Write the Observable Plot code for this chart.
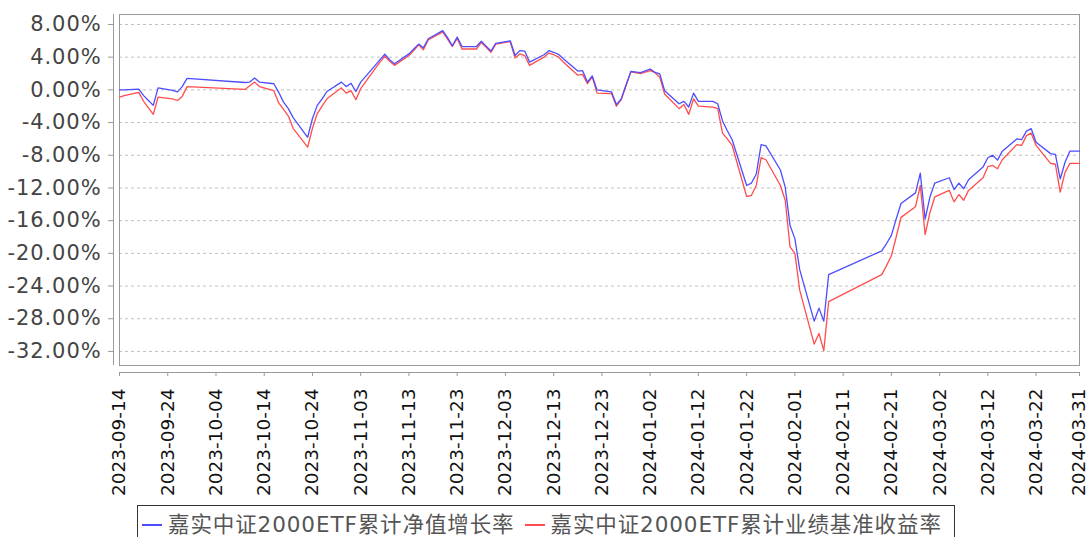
<!DOCTYPE html>
<html><head><meta charset="utf-8">
<script src="https://cdn.jsdelivr.net/npm/d3@7"></script>
<script src="https://cdn.jsdelivr.net/npm/@observablehq/plot@0.6"></script>
<style>
html,body{margin:0;padding:0;background:#fff;}
#wrap{position:relative;width:1088px;height:537px;overflow:hidden;font-family:"DejaVu Sans","Noto Sans CJK SC",sans-serif;}
#wrap svg{display:block;overflow:visible;}
#wrap svg g[aria-label="y-axis tick label"] text{letter-spacing:0.9px;}
.legend{position:absolute;left:137px;top:505px;width:818px;height:44px;box-sizing:border-box;border:1px solid #333;background:#fff;
  display:flex;align-items:flex-start;padding-top:7px;padding-left:4px;font-size:21.5px;letter-spacing:0.9px;color:#555;white-space:nowrap;line-height:24px;}
.legend .item{display:flex;align-items:center;}
.legend .sym{display:inline-block;width:20px;height:1.4px;margin-right:6px;}
.legend .item + .item{margin-left:10px;}
</style></head><body>
<div id="wrap"></div>
<script>
const dates = ["2023-09-14","2023-09-15","2023-09-18","2023-09-19","2023-09-20","2023-09-21","2023-09-22","2023-09-25","2023-09-26","2023-09-27","2023-09-28",
"2023-10-10","2023-10-11","2023-10-12","2023-10-13","2023-10-16","2023-10-17","2023-10-18","2023-10-19","2023-10-20","2023-10-23","2023-10-24","2023-10-25","2023-10-26","2023-10-27","2023-10-30","2023-10-31",
"2023-11-01","2023-11-02","2023-11-03","2023-11-06","2023-11-07","2023-11-08","2023-11-09","2023-11-10","2023-11-13","2023-11-14","2023-11-15","2023-11-16","2023-11-17","2023-11-20","2023-11-21","2023-11-22","2023-11-23","2023-11-24","2023-11-27","2023-11-28","2023-11-29","2023-11-30",
"2023-12-01","2023-12-04","2023-12-05","2023-12-06","2023-12-07","2023-12-08","2023-12-11","2023-12-12","2023-12-13","2023-12-14","2023-12-15","2023-12-18","2023-12-19","2023-12-20","2023-12-21","2023-12-22","2023-12-25","2023-12-26","2023-12-27","2023-12-28","2023-12-29","2023-12-31",
"2024-01-02","2024-01-03","2024-01-04","2024-01-05","2024-01-08","2024-01-09","2024-01-10","2024-01-11","2024-01-12","2024-01-15","2024-01-16","2024-01-17","2024-01-18","2024-01-19","2024-01-22","2024-01-23","2024-01-24","2024-01-25","2024-01-26","2024-01-29","2024-01-30","2024-01-31",
"2024-02-01","2024-02-02","2024-02-05","2024-02-06","2024-02-07","2024-02-08","2024-02-19","2024-02-20","2024-02-21","2024-02-22","2024-02-23","2024-02-26","2024-02-27","2024-02-28","2024-02-29",
"2024-03-01","2024-03-04","2024-03-05","2024-03-06","2024-03-07","2024-03-08","2024-03-11","2024-03-12","2024-03-13","2024-03-14","2024-03-15","2024-03-18","2024-03-19","2024-03-20","2024-03-21","2024-03-22","2024-03-25","2024-03-26","2024-03-27","2024-03-28","2024-03-29","2024-03-31"];

const navGrowth = [0.0,0.0,0.1,-0.7,-1.3,-1.9,0.25,-0.05,-0.25,0.4,1.4,
0.9,0.95,1.45,0.95,0.75,-0.3,-1.5,-2.3,-3.4,-5.8,-3.5,-1.9,-1.1,-0.2,0.95,0.4,
0.8,-0.2,0.95,3.0,3.7,4.35,3.7,3.2,4.4,5.0,5.6,5.15,6.25,7.25,6.4,5.4,6.45,5.3,5.3,5.95,5.35,4.75,
5.7,6.0,4.2,4.8,4.75,3.4,4.3,4.8,4.6,4.35,3.8,2.3,2.35,0.95,1.7,0.0,-0.25,-1.8,-1.1,0.6,2.25,2.1,
2.55,2.15,1.95,-0.1,-1.7,-1.4,-2.1,-0.4,-1.4,-1.4,-1.7,-3.8,-5.0,-6.1,-11.7,-11.4,-10.3,-6.7,-6.85,-9.8,-11.9,-16.6,
-18.2,-22.0,-28.3,-26.7,-28.3,-22.6,-19.7,-18.8,-17.8,-15.8,-13.9,-12.6,-10.2,-15.8,-13.1,
-11.4,-10.75,-12.2,-11.4,-12.1,-11.0,-9.45,-8.3,-8.0,-8.6,-7.5,-6.0,-6.1,-5.05,-4.75,-6.4,-7.8,-7.9,-10.9,-8.85,-7.5,-7.5];

const benchmarkReturn = [-0.9,-0.7,-0.3,-1.4,-2.2,-3.0,-0.9,-1.1,-1.3,-0.8,0.4,
0.05,0.5,0.95,0.4,-0.1,-1.6,-2.4,-3.2,-4.7,-7.0,-4.7,-2.9,-2.0,-1.1,0.25,-0.4,
-0.1,-1.2,0.15,2.6,3.4,4.1,3.5,3.0,4.2,4.8,5.5,4.9,6.1,7.1,6.2,5.3,6.3,5.0,5.0,5.8,5.2,4.6,
5.6,5.9,3.9,4.4,4.2,3.0,4.0,4.5,4.3,4.0,3.4,1.8,1.9,0.75,1.6,-0.4,-0.45,-2.0,-1.2,0.5,2.2,2.0,
2.35,2.1,1.55,-0.5,-2.3,-1.8,-3.0,-1.1,-2.0,-2.1,-2.3,-5.3,-6.0,-6.8,-13.05,-12.9,-11.7,-8.3,-8.55,-11.7,-13.5,-19.2,
-20.0,-24.5,-31.1,-29.8,-31.9,-25.9,-22.6,-21.5,-20.3,-18.0,-15.6,-14.3,-11.7,-17.7,-15.0,
-13.1,-12.3,-13.7,-12.8,-13.5,-12.3,-10.75,-9.4,-9.25,-9.65,-8.55,-6.7,-6.8,-5.6,-5.3,-6.8,-9.0,-9.1,-12.5,-10.1,-9.0,-9.0];

const xTickLabels = ["2023-09-14","2023-09-24","2023-10-04","2023-10-14","2023-10-24","2023-11-03","2023-11-13","2023-11-23","2023-12-03","2023-12-13","2023-12-23",
"2024-01-02","2024-01-12","2024-01-22","2024-02-01","2024-02-11","2024-02-21","2024-03-02","2024-03-12","2024-03-22","2024-03-31"];
const yTickValues = [8,4,0,-4,-8,-12,-16,-20,-24,-28,-32];
const yDomain = [-33.72, 9.22];
const seriesNames = ["嘉实中证2000ETF累计净值增长率","嘉实中证2000ETF累计业绩基准收益率"];

const parse = d3.utcParse("%Y-%m-%d");
const fmt = d3.utcFormat("%Y-%m-%d");
const xTicks = xTickLabels.map(parse);
const xDomain = [xTicks[0], xTicks[xTicks.length - 1]];
const rows = dates.map((d, i) => ({date: parse(d), nav: navGrowth[i], bench: benchmarkReturn[i]}));
const blue = "#4d4dff", red = "#ff4d4d";

const chart = Plot.plot({
  width: 1088, height: 503,
  marginLeft: 119, marginRight: 9, marginTop: 14, marginBottom: 138,
  style: {fontFamily: "DejaVu Sans, sans-serif", background: "#fff", overflow: "visible"},
  x: {type: "utc", domain: xDomain},
  y: {domain: yDomain},
  marks: [
    Plot.gridY(yTickValues, {stroke: "#c0c0c0", strokeOpacity: 1, strokeDasharray: "3,3"}),
    Plot.frame({stroke: "#999"}),
    Plot.ruleX([xDomain[0]], {dx: -6, stroke: "#999"}),
    Plot.ruleY([yDomain[0]], {dy: 7, stroke: "#999"}),
    Plot.axisY(yTickValues, {dx: -6, tickSize: 5, tickPadding: 7, tickFormat: d => d.toFixed(2) + "%", fontSize: 21, fill: "#444", stroke: "#999"}),
    Plot.axisX(xTicks, {dy: 7, tickSize: 4, tickPadding: 12, tickRotate: -90, tickFormat: fmt, fontSize: 18.5, fill: "#111", stroke: "#999"}),
    Plot.lineY(rows, {x: "date", y: "bench", stroke: red, strokeWidth: 1.3}),
    Plot.lineY(rows, {x: "date", y: "nav", stroke: blue, strokeWidth: 1.3})
  ]
});
const wrap = document.getElementById("wrap");
wrap.appendChild(chart);
const legend = document.createElement("div");
legend.className = "legend";
[blue, red].forEach((c, i) => {
  const item = document.createElement("span");
  item.className = "item";
  const sym = document.createElement("span");
  sym.className = "sym";
  sym.style.background = c;
  item.appendChild(sym);
  item.appendChild(document.createTextNode(seriesNames[i]));
  legend.appendChild(item);
});
wrap.appendChild(legend);
</script>
</body></html>
